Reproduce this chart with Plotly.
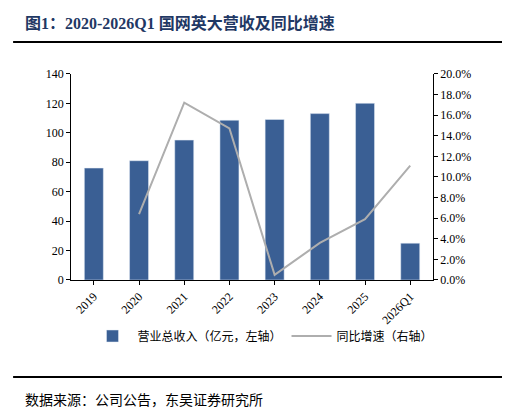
import plotly.graph_objects as go

years = ["2019", "2020", "2021", "2022", "2023", "2024", "2025", "2026Q1"]
revenue = [76, 81, 95, 108.5, 109, 113, 120, 25]
yoy_years = ["2020", "2021", "2022", "2023", "2024", "2025", "2026Q1"]
yoy = [0.064, 0.172, 0.147, 0.005, 0.036, 0.059, 0.111]

FONT = "Liberation Serif, Noto Sans CJK SC"
W, H = 510, 409

fig = go.Figure()
fig.add_trace(go.Bar(x=years, y=revenue, name="营业总收入（亿元，左轴）",
                     marker_color="#3A5F94", width=0.42))
fig.add_trace(go.Scatter(x=yoy_years, y=yoy, name="同比增速（右轴）", yaxis="y2",
                         mode="lines", line=dict(color="#AEAEAE", width=2)))

axis_common = dict(showgrid=False, showline=True, linecolor="black", ticks="outside",
                   ticklen=4, tickcolor="black", tickfont=dict(size=12, color="black", family=FONT))
fig.update_layout(
    width=W, height=H, margin=dict(l=0, r=0, t=0, b=0),
    paper_bgcolor="white", plot_bgcolor="white",
    font=dict(family=FONT, color="black"),
    bargap=0.5,
    xaxis=dict(domain=[0.124, 0.833], tickangle=-45, automargin=False, **axis_common),
    yaxis=dict(range=[0, 140], dtick=20, domain=[0.335, 0.839], automargin=False, **axis_common),
    yaxis2=dict(range=[0, 0.2], dtick=0.02, tickformat=".1%", overlaying="y", side="right",
                automargin=False, **axis_common),
    legend=dict(orientation="h", x=0.5, xanchor="center", y=1 - 328 / H, yanchor="middle",
                bgcolor="rgba(0,0,0,0)", font=dict(size=12, family=FONT), itemwidth=40),
    showlegend=True,
    shapes=[
        dict(type="line", xref="paper", yref="paper", x0=0.01, x1=0.99,
             y0=1 - 34 / H, y1=1 - 34 / H, line=dict(color="black", width=2)),
        dict(type="line", xref="paper", yref="paper", x0=0.01, x1=0.99,
             y0=1 - 369 / H, y1=1 - 369 / H, line=dict(color="black", width=2)),
    ],
    annotations=[
        dict(text="<b>图1：2020-2026Q1 国网英大营收及同比增速</b>", xref="paper", yref="paper",
             x=0.03, y=1 - 16 / H, xanchor="left", yanchor="middle", showarrow=False,
             font=dict(size=16, color="#1F3864", family=FONT)),
        dict(text="数据来源：公司公告，东吴证券研究所", xref="paper", yref="paper",
             x=0.03, y=1 - 392 / H, xanchor="left", yanchor="middle", showarrow=False,
             font=dict(size=14, color="black", family=FONT)),
    ],
)
fig.write_html("out.html")
